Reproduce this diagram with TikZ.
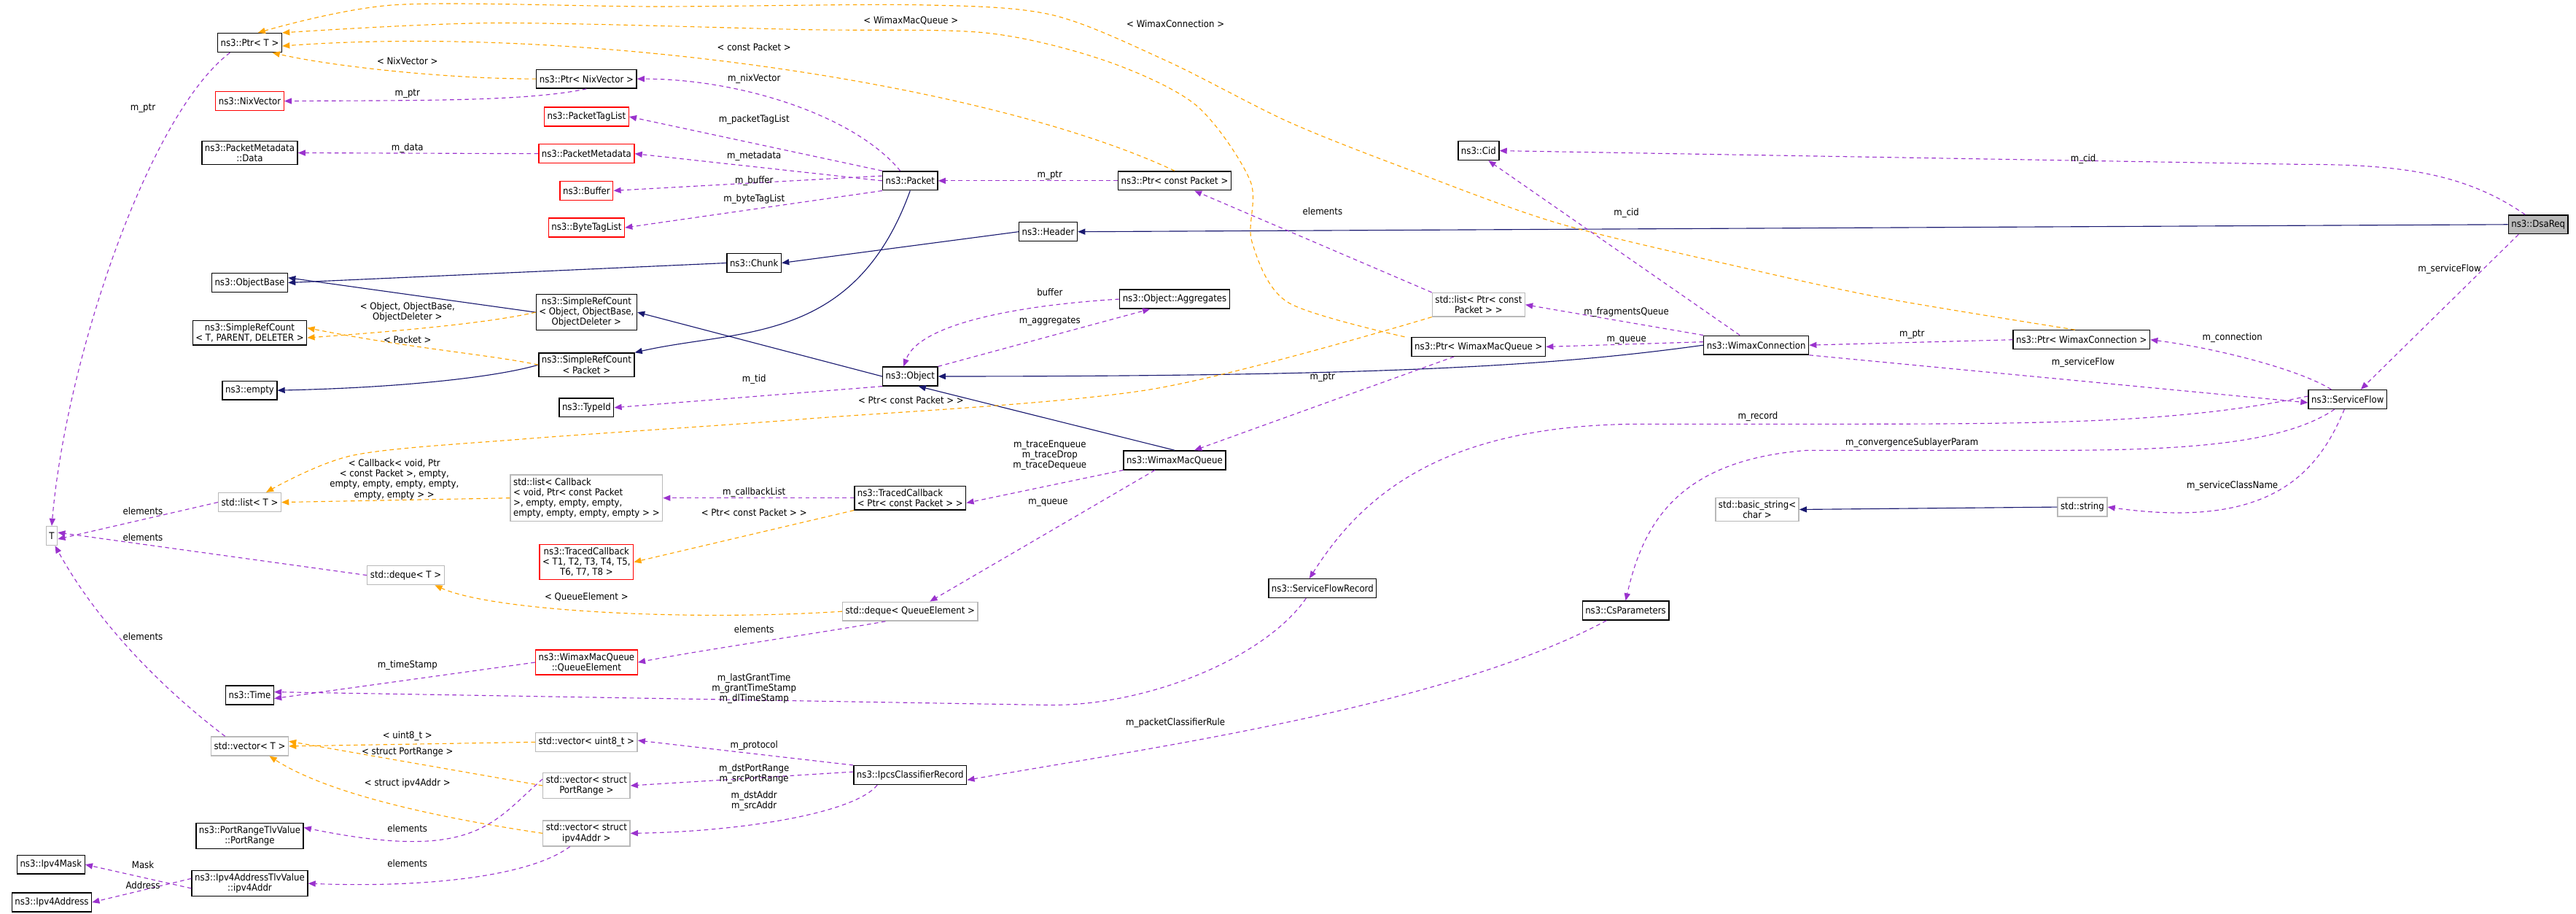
\documentclass[tikz,border=0pt]{standalone}
\usepackage{fontspec}
\setmainfont{DejaVu Sans Condensed}
\usetikzlibrary{arrows.meta}
\definecolor{inhc}{RGB}{25,25,112}
\definecolor{usec}{RGB}{154,50,205}
\definecolor{tmpc}{RGB}{255,165,0}
\newcommand{\fs}{\fontsize{5.8}{6.3}\selectfont}
\tikzset{
 box/.style={draw=black,line width=0.6pt,inner sep=1.8pt,minimum height=11.5pt,font=\fs,fill=white,align=center},
 redbox/.style={box,draw=red},
 gbox/.style={box,draw=gray!55},
 lbox/.style={align=left},
 lab/.style={font=\fs,inner sep=0.5pt,align=center},
 tipa/.style={-{Triangle[length=4.5pt,width=3.6pt]}},
 inh/.style={tipa,draw=inhc,line width=0.5pt},
 use/.style={tipa,draw=usec,line width=0.5pt,dash pattern=on 2.5pt off 2pt},
 tmp/.style={tipa,draw=tmpc,line width=0.5pt,dash pattern=on 2.5pt off 2pt},
}
\begin{document}
\begin{tikzpicture}[x=1pt,y=-1pt]
\useasboundingbox (0,0) rectangle (1568,556);
% left column
\node[box] (ptrT) at (152,26) {ns3::Ptr< T >};
\node[redbox] (nix) at (152,61.5) {ns3::NixVector};
\node[box] (pmd) at (152,93) {ns3::PacketMetadata\\::Data};
\node[box] (objb) at (152,172) {ns3::ObjectBase};
\node[box] (srcT) at (152,202.5) {ns3::SimpleRefCount\\< T, PARENT, DELETER >};
\node[box] (empty) at (152,237.5) {ns3::empty};
\node[gbox] (listT) at (152,305.6) {std::list< T >};
\node[gbox] (T) at (31.5,326) {T};
\node[gbox] (dequeT) at (247,350) {std::deque< T >};
\node[box] (time) at (152,423) {ns3::Time};
\node[gbox] (vecT) at (152,454) {std::vector< T >};
\node[box] (pr) at (152,508.5) {ns3::PortRangeTlvValue\\::PortRange};
\node[box] (mask) at (31,526) {ns3::Ipv4Mask};
\node[box] (ipv4a) at (152,537.5) {ns3::Ipv4AddressTlvValue\\::ipv4Addr};
\node[box] (ipaddr) at (31.5,549) {ns3::Ipv4Address};
% second column
\node[box] (ptrNix) at (357,48) {ns3::Ptr< NixVector >};
\node[redbox] (ptl) at (357,71) {ns3::PacketTagList};
\node[redbox] (pm) at (357,93.5) {ns3::PacketMetadata};
\node[redbox] (buf) at (357,116) {ns3::Buffer};
\node[redbox] (btl) at (357,138.5) {ns3::ByteTagList};
\node[box] (srcO) at (357,190) {ns3::SimpleRefCount\\< Object, ObjectBase,\\ObjectDeleter >};
\node[box] (srcP) at (357,222) {ns3::SimpleRefCount\\< Packet >};
\node[box] (tid) at (357,248) {ns3::TypeId};
\node[gbox,lbox] (listCb) at (357,303) {std::list< Callback\\< void, Ptr< const Packet\\>, empty, empty, empty,\\empty, empty, empty, empty > >};
\node[redbox] (tcT) at (357,342) {ns3::TracedCallback\\< T1, T2, T3, T4, T5,\\T6, T7, T8 >};
\node[redbox] (qe) at (357,403) {ns3::WimaxMacQueue\\::QueueElement};
\node[gbox] (vecU) at (357,451.5) {std::vector< uint8\_t >};
\node[gbox] (vecPR) at (357,478) {std::vector< struct\\PortRange >};
\node[gbox] (vecIP) at (357,507) {std::vector< struct\\ipv4Addr >};
% third column
\node[box] (chunk) at (459,160) {ns3::Chunk};
\node[box] (packet) at (554,110) {ns3::Packet};
\node[box] (object) at (554,229) {ns3::Object};
\node[box,lbox] (tcP) at (554,303) {ns3::TracedCallback\\< Ptr< const Packet > >};
\node[gbox] (dequeQE) at (554,372) {std::deque< QueueElement >};
\node[box] (ipcs) at (554,471.6) {ns3::IpcsClassifierRecord};
\node[box] (header) at (638,141) {ns3::Header};
\node[box] (ptrCP) at (715,110) {ns3::Ptr< const Packet >};
\node[box] (aggr) at (715,182) {ns3::Object::Aggregates};
\node[box] (wmq) at (715,280) {ns3::WimaxMacQueue};
\node[box] (sfr) at (805,358) {ns3::ServiceFlowRecord};
\node[box] (cid) at (900,91.7) {ns3::Cid};
\node[gbox] (listPCP) at (900,185.4) {std::list< Ptr< const\\Packet > >};
\node[box] (ptrWMQ) at (900,211) {ns3::Ptr< WimaxMacQueue >};
\node[box] (csp) at (989.5,371.5) {ns3::CsParameters};
\node[box] (wc) at (1069,210) {ns3::WimaxConnection};
\node[gbox] (bstr) at (1069.6,310) {std::basic\_string<\\char >};
\node[box] (ptrWC) at (1267,206.7) {ns3::Ptr< WimaxConnection >};
\node[gbox] (str) at (1267.5,308.5) {std::string};
\node[box] (sf) at (1429,243) {ns3::ServiceFlow};
\node[box,fill=gray!55] (dsareq) at (1545,136.6) {ns3::DsaReq};

% inheritance
\draw[inh] (chunk.west) -- (objb.east);
\draw[inh] (header.west) -- (chunk.east);
\draw[inh] (dsareq.west) -- (header.east);
\draw[inh] (srcO.west) -- ([yshift=3pt]objb.east);
\draw[inh] (object.west) -- (srcO.east);
\draw[inh] (packet.south) .. controls (520,210) and (450,200) .. (srcP.north east);
\draw[inh] (srcP.west) .. controls (300,230) and (240,236) .. (empty.east);
\draw[inh] (wc.west) .. controls (950,222) and (850,229) .. (object.east);
\draw[inh] (wmq.north) -- ([xshift=-12pt]object.south east);
\draw[inh] (str.west) -- (bstr.east);

% templates
\draw[tmp] (ptrNix.west) .. controls (270,48) and (200,40) .. ([xshift=-6pt]ptrT.south east);
\draw[tmp] (ptrCP.north) .. controls (600,50) and (350,15) .. ([yshift=-2pt]ptrT.east);
\draw[tmp] plot[smooth] coordinates {([xshift=-4pt]ptrWMQ.north west) (784,184) (762,147) (761,110) (728,64) (673,37) (600,20) (489,18) (300,14) (ptrT.north east)};
\draw[tmp] plot[smooth] coordinates {([xshift=-4pt]ptrWC.north) (1150,182) (1066,164) (949,136) (857,103) (784,74) (710,37) (640,9) (560,3) (400,4) (240,3) ([xshift=5pt]ptrT.north)};
\draw[tmp] (srcO.west) .. controls (300,196) and (250,201) .. ([yshift=-3pt]srcT.east);
\draw[tmp] (srcP.west) .. controls (300,216) and (250,212) .. ([yshift=3pt]srcT.east);
\draw[tmp] plot[smooth] coordinates {(listPCP.south west) (700,237) (489,255) (320,267) (215,277) ([xshift=10pt]listT.north)};
\draw[tmp] (listCb.west) -- (listT.east);
\draw[tmp] (tcP.south west) -- (tcT.east);
\draw[tmp] (dequeQE.west) .. controls (420,378) and (300,372) .. ([xshift=-6pt]dequeT.south east);
\draw[tmp] (vecU.west) -- (vecT.east);
\draw[tmp] (vecPR.west) -- ([yshift=3pt]vecT.east);
\draw[tmp] (vecIP.west) .. controls (250,495) and (195,480) .. ([xshift=12pt]vecT.south);

% usage
\draw[use] ([xshift=-12pt]ptrT.south) .. controls (90,70) and (40,220) .. (T.north);
\draw[use] (ptrNix.south) .. controls (320,62) and (250,61) .. (nix.east);
\draw[use] ([xshift=-6pt]packet.north) .. controls (520,70) and (450,48) .. (ptrNix.east);
\draw[use] (packet.north west) -- (ptl.east);
\draw[use] (packet.west) -- (pm.east);
\draw[use] ([yshift=3pt]packet.west) -- (buf.east);
\draw[use] (packet.south west) -- (btl.east);
\draw[use] (pm.west) -- (pmd.east);
\draw[use] (ptrCP.west) -- (packet.east);
\draw[use] (object.south west) -- (tid.east);
\draw[use] (aggr.west) .. controls (630,185) and (560,195) .. ([xshift=-4pt]object.north);
\draw[use] (object.north east) -- ([xshift=-15pt]aggr.south);
\draw[use] (listPCP.north west) -- ([xshift=12pt]ptrCP.south);
\draw[use] (wc.north west) -- (listPCP.east);
\draw[use] ([yshift=2pt]wc.west) -- (ptrWMQ.east);
\draw[use] ([xshift=-10pt]wc.north) -- ([xshift=6pt]cid.south);
\draw[use] ([xshift=-8pt]dsareq.north) .. controls (1500,105) and (1460,100) .. (1400,100) -- (cid.east);
\draw[use] ([xshift=-15pt]ptrWMQ.south) -- ([xshift=12pt]wmq.north);
\draw[use] (ptrWC.west) -- (wc.east);
\draw[use] ([xshift=-10pt]sf.north) .. controls (1400,225) and (1350,212) .. (ptrWC.east);
\draw[use] (wc.south east) -- ([yshift=-2pt]sf.west);
\draw[use] ([xshift=-12pt]dsareq.south) -- ([xshift=8pt]sf.north);
\draw[use] ([yshift=2pt]sf.west) .. controls (1330,257) and (1250,258) .. (1120,258) -- (1000,258) .. controls (880,258) and (830,300) .. ([xshift=-8pt]sfr.north);
\draw[use] ([xshift=-8pt]sf.south) .. controls (1390,270) and (1330,274) .. (1250,274) -- (1100,274) .. controls (1020,280) and (1000,320) .. (csp.north);
\draw[use] ([xshift=-2pt]sf.south) .. controls (1410,290) and (1380,322) .. (str.east);
\draw[use] (listT.west) -- ([yshift=-2pt]T.east);
\draw[use] (dequeT.west) -- ([yshift=2pt]T.east);
\draw[use] ([xshift=-15pt]vecT.north) .. controls (100,420) and (60,380) .. ([xshift=2pt]T.south);
\draw[use] (tcP.west) -- (listCb.east);
\draw[use] (wmq.south west) -- ([yshift=-3pt]tcP.east);
\draw[use] ([xshift=-12pt]wmq.south) -- ([xshift=12pt]dequeQE.north);
\draw[use] ([xshift=-15pt]dequeQE.south) .. controls (500,385) and (430,395) .. (qe.east);
\draw[use] (qe.west) -- ([yshift=-2pt]time.east);
\draw[use] ([xshift=-10pt]sfr.south) .. controls (770,400) and (700,429) .. (640,429) -- ([yshift=2pt]time.east);
\draw[use] ([xshift=15pt]csp.south west) .. controls (880,430) and (700,455) .. ([yshift=-3pt]ipcs.east);
\draw[use] (ipcs.north west) -- ([yshift=1pt]vecU.east);
\draw[use] ([yshift=2pt]ipcs.west) -- (vecPR.east);
\draw[use] ([xshift=-20pt]ipcs.south) .. controls (520,495) and (450,506) .. (vecIP.east);
\draw[use] ([yshift=4pt]vecPR.west) .. controls (300,500) and (290,525) .. ([yshift=5pt]pr.east);
\draw[use] ([xshift=-10pt]vecIP.south) .. controls (320,535) and (250,540) .. (ipv4a.east);
\draw[use] ([yshift=-3pt]ipv4a.west) -- (mask.east);
\draw[use] ([yshift=3pt]ipv4a.west) -- (ipaddr.east);

% labels
\node[lab] (l1) at (248,37) {< NixVector >};
\node[lab] (l2) at (248,57) {m\_ptr};
\node[lab] (l3) at (87,66) {m\_ptr};
\node[lab] (l4) at (459,28.6) {< const Packet >};
\node[lab] (l5) at (459,48) {m\_nixVector};
\node[lab] (l6) at (459,73) {m\_packetTagList};
\node[lab] (l7) at (248,90) {m\_data};
\node[lab] (l8) at (459,95) {m\_metadata};
\node[lab] (l9) at (459,110) {m\_buffer};
\node[lab] (l10) at (459,121) {m\_byteTagList};
\node[lab] (l11) at (248,190) {< Object, ObjectBase,\\ObjectDeleter >};
\node[lab] (l12) at (248,206.5) {< Packet >};
\node[lab] (l13) at (459,231) {m\_tid};
\node[lab] (l14) at (554.5,12.5) {< WimaxMacQueue >};
\node[lab] (l15) at (715.5,14.7) {< WimaxConnection >};
\node[lab] (l16) at (639,106.5) {m\_ptr};
\node[lab] (l17) at (805,128.4) {elements};
\node[lab] (l18) at (990,129.5) {m\_cid};
\node[lab] (l19) at (639,178) {buffer};
\node[lab] (l20) at (639,195.5) {m\_aggregates};
\node[lab] (l21) at (990,190) {m\_fragmentsQueue};
\node[lab] (l22) at (990,207) {m\_queue};
\node[lab] (l23) at (805,229.8) {m\_ptr};
\node[lab] (l24) at (554.5,243.4) {< Ptr< const Packet > >};
\node[lab] (l25) at (639,277) {m\_traceEnqueue\\m\_traceDrop\\m\_traceDequeue};
\node[lab] (l26) at (240,291.7) {< Callback< void, Ptr\\< const Packet >, empty,\\empty, empty, empty, empty,\\empty, empty > >};
\node[lab] (l27) at (87,311) {elements};
\node[lab] (l28) at (87,327) {elements};
\node[lab] (l29) at (459,299.5) {m\_callbackList};
\node[lab] (l30) at (459,311.7) {< Ptr< const Packet > >};
\node[lab] (l31) at (357,363) {< QueueElement >};
\node[lab] (l32) at (459,383) {elements};
\node[lab] (l33) at (87,387.4) {elements};
\node[lab] (l34) at (248,405) {m\_timeStamp};
\node[lab] (l35) at (459,419) {m\_lastGrantTime\\m\_grantTimeStamp\\m\_dlTimeStamp};
\node[lab] (l36) at (248,448) {< uint8\_t >};
\node[lab] (l37) at (248,457.8) {< struct PortRange >};
\node[lab] (l38) at (459,453.4) {m\_protocol};
\node[lab] (l39) at (459,470.8) {m\_dstPortRange\\m\_srcPortRange};
\node[lab] (l40) at (248,476.5) {< struct ipv4Addr >};
\node[lab] (l41) at (459,487.4) {m\_dstAddr\\m\_srcAddr};
\node[lab] (l42) at (248,504) {elements};
\node[lab] (l43) at (248,525.4) {elements};
\node[lab] (l44) at (87,526) {Mask};
\node[lab] (l45) at (87,538.6) {Address};
\node[lab] (l46) at (638,306) {m\_queue};
\node[lab] (l47) at (715.5,439.8) {m\_packetClassifierRule};
\node[lab] (l48) at (1268,96.7) {m\_cid};
\node[lab] (l49) at (1491,164) {m\_serviceFlow};
\node[lab] (l50) at (1163.8,203.5) {m\_ptr};
\node[lab] (l51) at (1358.8,205.3) {m\_connection};
\node[lab] (l52) at (1268,220.8) {m\_serviceFlow};
\node[lab] (l53) at (1070,253.3) {m\_record};
\node[lab] (l54) at (1163.8,269.4) {m\_convergenceSublayerParam};
\node[lab] (l55) at (1358.8,295.5) {m\_serviceClassName};
\end{tikzpicture}
\end{document}
